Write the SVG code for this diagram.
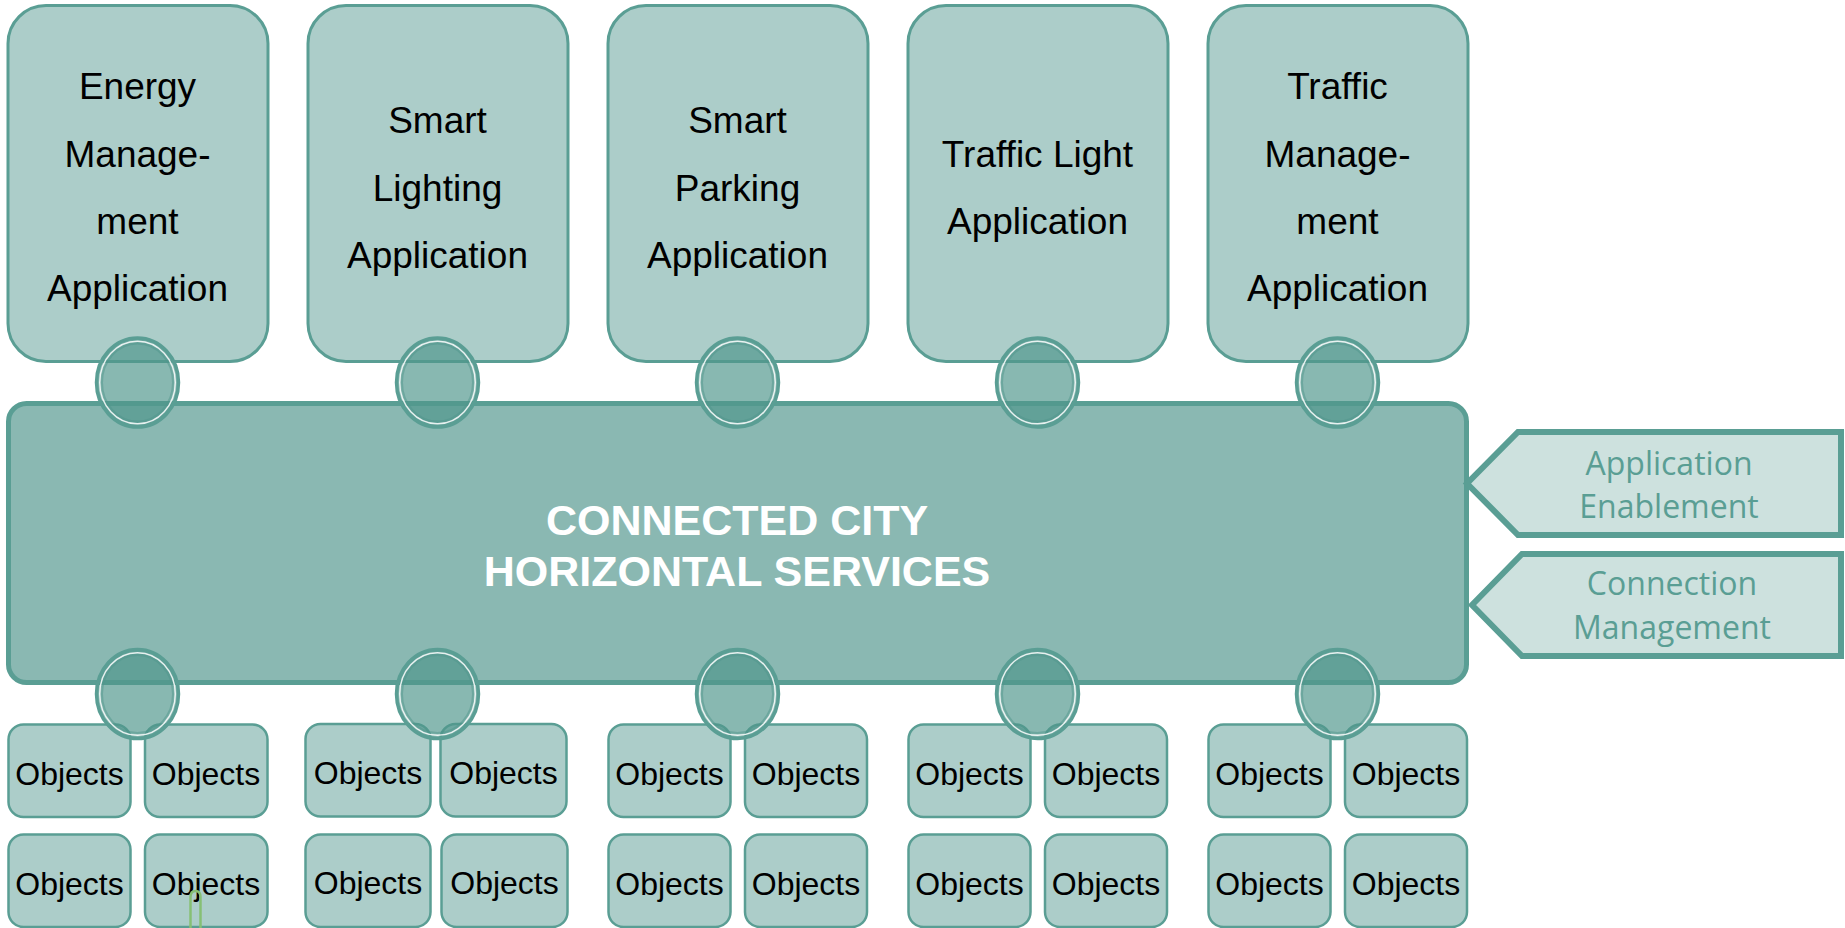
<svg xmlns="http://www.w3.org/2000/svg" width="1845" height="928" viewBox="0 0 1845 928">
<style>
.app{fill:#accdc9;stroke:#5a9e94;stroke-width:3}
.obj{fill:#accdc9;stroke:#5a9e94;stroke-width:2.5}
.bar{fill:#8ab8b2;stroke:#5a9e94;stroke-width:5}
.arr{fill:#cde1de;stroke:#5a9e94;stroke-width:6;stroke-linejoin:miter}
.t{font-family:Arial,"Liberation Sans",sans-serif;font-size:37px;fill:#000;text-anchor:middle}
.o{font-family:Arial,"Liberation Sans",sans-serif;font-size:32px;fill:#000;text-anchor:middle}
.m{font-family:Arial,"Liberation Sans",sans-serif;font-size:43px;font-weight:bold;fill:#fff;text-anchor:middle}
.r{font-family:"Open Sans","Noto Sans",sans-serif;font-size:32px;fill:#5a9e94;text-anchor:middle}
.c1{fill:#4f968c;fill-opacity:0.68;stroke:#5a9e94;stroke-width:3.5}
.c2{fill:none;stroke:#fff;stroke-width:1.4;stroke-opacity:0.85}
.c3{fill:none;stroke:#4f968c;stroke-width:2;stroke-opacity:0.5}
</style>
<defs>
<g id="port">
<ellipse class="c1" cx="0" cy="0" rx="41" ry="44.5"/>
<ellipse class="c2" cx="0" cy="0" rx="37.8" ry="41.3"/>
<ellipse class="c3" cx="0" cy="0" rx="35.5" ry="39"/>
</g>
</defs>
<g id="app-energy">
<rect class="app" x="8" y="5.5" width="260" height="356" rx="38"/>
<text class="t" x="137.5" y="99">Energy</text>
<text class="t" x="137.5" y="167">Manage-</text>
<text class="t" x="137.5" y="234">ment</text>
<text class="t" x="137.5" y="301">Application</text>
</g>
<g id="app-lighting">
<rect class="app" x="308" y="5.5" width="260" height="356" rx="38"/>
<text class="t" x="437.5" y="133">Smart</text>
<text class="t" x="437.5" y="200.5">Lighting</text>
<text class="t" x="437.5" y="268">Application</text>
</g>
<g id="app-parking">
<rect class="app" x="608" y="5.5" width="260" height="356" rx="38"/>
<text class="t" x="737.5" y="133">Smart</text>
<text class="t" x="737.5" y="200.5">Parking</text>
<text class="t" x="737.5" y="268">Application</text>
</g>
<g id="app-trafficlight">
<rect class="app" x="908" y="5.5" width="260" height="356" rx="38"/>
<text class="t" x="1037.5" y="167">Traffic Light</text>
<text class="t" x="1037.5" y="234">Application</text>
</g>
<g id="app-traffic">
<rect class="app" x="1208" y="5.5" width="260" height="356" rx="38"/>
<text class="t" x="1337.5" y="99">Traffic</text>
<text class="t" x="1337.5" y="167">Manage-</text>
<text class="t" x="1337.5" y="234">ment</text>
<text class="t" x="1337.5" y="301">Application</text>
</g>
<g id="horizontal-services">
<rect class="bar" x="8.5" y="403.5" width="1458" height="279" rx="18"/>
<text class="m" x="737" y="535">CONNECTED CITY</text>
<text class="m" x="737" y="586">HORIZONTAL SERVICES</text>
</g>
<g id="objects-1">
<rect class="obj" x="8.5" y="724.5" width="122" height="92.5" rx="15"/>
<rect class="obj" x="145" y="724.5" width="122.5" height="92.5" rx="15"/>
<rect class="obj" x="8.5" y="834.5" width="122" height="92.5" rx="15"/>
<rect class="obj" x="145" y="834.5" width="122.5" height="92.5" rx="15"/>
<text class="o" x="69.5" y="785">Objects</text>
<text class="o" x="206" y="785">Objects</text>
<text class="o" x="69.5" y="895">Objects</text>
<text class="o" x="206" y="895">Objects</text>
<path d="M190.5 928 V897 Q190.5 891 195.5 891 Q200.5 891 200.5 897 V928" fill="none" stroke="#86c074" stroke-width="2.5"/>
</g>
<g id="objects-2">
<rect class="obj" x="305.5" y="724" width="125" height="92.5" rx="15"/>
<rect class="obj" x="440.5" y="724" width="126" height="92.5" rx="15"/>
<rect class="obj" x="305.5" y="834.5" width="125" height="92.5" rx="15"/>
<rect class="obj" x="441.5" y="834.5" width="126" height="92.5" rx="15"/>
<text class="o" x="368" y="784">Objects</text>
<text class="o" x="503.5" y="784">Objects</text>
<text class="o" x="368" y="894">Objects</text>
<text class="o" x="504.5" y="894">Objects</text>
</g>
<g id="objects-3">
<rect class="obj" x="608.5" y="724.5" width="122" height="92.5" rx="15"/>
<rect class="obj" x="745" y="724.5" width="122" height="92.5" rx="15"/>
<rect class="obj" x="608.5" y="834.5" width="122" height="92.5" rx="15"/>
<rect class="obj" x="745" y="834.5" width="122" height="92.5" rx="15"/>
<text class="o" x="669.5" y="785">Objects</text>
<text class="o" x="806" y="785">Objects</text>
<text class="o" x="669.5" y="895">Objects</text>
<text class="o" x="806" y="895">Objects</text>
</g>
<g id="objects-4">
<rect class="obj" x="908.5" y="724.5" width="122" height="92.5" rx="15"/>
<rect class="obj" x="1045" y="724.5" width="122" height="92.5" rx="15"/>
<rect class="obj" x="908.5" y="834.5" width="122" height="92.5" rx="15"/>
<rect class="obj" x="1045" y="834.5" width="122" height="92.5" rx="15"/>
<text class="o" x="969.5" y="785">Objects</text>
<text class="o" x="1106" y="785">Objects</text>
<text class="o" x="969.5" y="895">Objects</text>
<text class="o" x="1106" y="895">Objects</text>
</g>
<g id="objects-5">
<rect class="obj" x="1208.5" y="724.5" width="122" height="92.5" rx="15"/>
<rect class="obj" x="1345" y="724.5" width="122" height="92.5" rx="15"/>
<rect class="obj" x="1208.5" y="834.5" width="122" height="92.5" rx="15"/>
<rect class="obj" x="1345" y="834.5" width="122" height="92.5" rx="15"/>
<text class="o" x="1269.5" y="785">Objects</text>
<text class="o" x="1406" y="785">Objects</text>
<text class="o" x="1269.5" y="895">Objects</text>
<text class="o" x="1406" y="895">Objects</text>
</g>
<g id="connectors">
<use href="#port" x="137.5" y="382.5"/>
<use href="#port" x="437.5" y="382.5"/>
<use href="#port" x="737.5" y="382.5"/>
<use href="#port" x="1037.5" y="382.5"/>
<use href="#port" x="1337.5" y="382.5"/>
<use href="#port" x="137.5" y="694"/>
<use href="#port" x="437.5" y="694"/>
<use href="#port" x="737.5" y="694"/>
<use href="#port" x="1037.5" y="694"/>
<use href="#port" x="1337.5" y="694"/>
</g>
<g id="application-enablement">
<polygon class="arr" points="1518,432 1841,432 1841,535 1518,535 1467,483.5"/>
<text class="r" x="1669" y="475">Application</text>
<text class="r" x="1669" y="518">Enablement</text>
</g>
<g id="connection-management">
<polygon class="arr" points="1522,554 1841,554 1841,656 1522,656 1472,605"/>
<text class="r" x="1672" y="595">Connection</text>
<text class="r" x="1672" y="639">Management</text>
</g>
</svg>
